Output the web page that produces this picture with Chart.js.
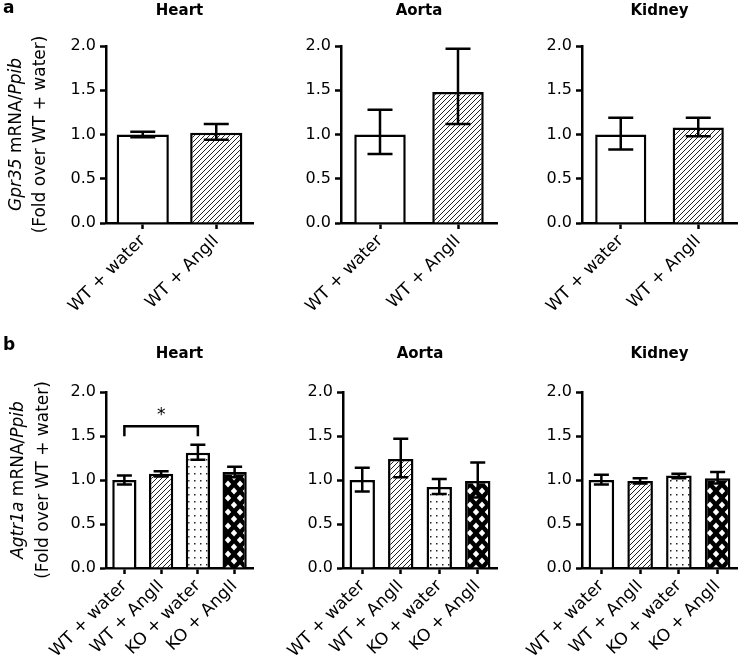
<!DOCTYPE html>
<html>
<head>
<meta charset="utf-8">
<script src="https://cdn.jsdelivr.net/npm/chart.js@4.4.0/dist/chart.umd.min.js"></script>
<style>
  body { margin: 0; background: #fff; width: 750px; height: 666px; position: relative; overflow: hidden; }
  canvas { position: absolute; }
</style>
</head>
<body>
<canvas id="aHeart" width="260" height="330" style="left:0;top:0"></canvas>
<canvas id="aAorta" width="240" height="330" style="left:260px;top:0"></canvas>
<canvas id="aKidney" width="250" height="330" style="left:500px;top:0"></canvas>
<canvas id="bHeart" width="260" height="336" style="left:0;top:330px"></canvas>
<canvas id="bAorta" width="240" height="336" style="left:260px;top:330px"></canvas>
<canvas id="bKidney" width="250" height="336" style="left:500px;top:330px"></canvas>
<script>
// ---- data ----
const tissueNames = ['Heart', 'Aorta', 'Kidney'];
const wtGroups = ['WT + water', 'WT + AngII'];
const allGroups = ['WT + water', 'WT + AngII', 'KO + water', 'KO + AngII'];
const yTickValues = [0, 0.5, 1.0, 1.5, 2.0];

// panel a : Gpr35 mRNA / Ppib (mean, lower and upper end of error bar)
const gpr35Heart = [1.00, 1.02];
const gpr35HeartLow = [0.97, 0.94];
const gpr35HeartHigh = [1.03, 1.12];
const gpr35Aorta = [1.00, 1.48];
const gpr35AortaLow = [0.78, 1.12];
const gpr35AortaHigh = [1.28, 1.97];
const gpr35Kidney = [1.00, 1.08];
const gpr35KidneyLow = [0.83, 0.98];
const gpr35KidneyHigh = [1.19, 1.19];

// panel b : Agtr1a mRNA / Ppib
const agtr1aHeart = [1.00, 1.07, 1.31, 1.09];
const agtr1aHeartLow = [0.95, 1.04, 1.23, 1.03];
const agtr1aHeartHigh = [1.05, 1.10, 1.40, 1.15];
const agtr1aAorta = [1.00, 1.24, 0.92, 0.99];
const agtr1aAortaLow = [0.87, 1.03, 0.84, 0.80];
const agtr1aAortaHigh = [1.14, 1.47, 1.01, 1.20];
const agtr1aKidney = [1.00, 0.99, 1.05, 1.02];
const agtr1aKidneyLow = [0.95, 0.96, 1.02, 0.96];
const agtr1aKidneyHigh = [1.06, 1.02, 1.07, 1.09];

// significance: WT + water vs KO + water in heart (from index, to index, height)
const heartSignificance = [0, 2, 1.61];

const FONT = 'DejaVu Sans';

// ---- fill patterns for the four groups ----
function tile(w, h, paint) {
  const c = document.createElement('canvas');
  c.width = w; c.height = h;
  const g = c.getContext('2d');
  paint(g, w, h);
  return c.getContext('2d').createPattern(c, 'repeat');
}
const hatchFill = tile(5, 5, (g, w, h) => {
  g.fillStyle = '#fff'; g.fillRect(0, 0, w, h);
  g.strokeStyle = '#222'; g.lineWidth = 1;
  g.beginPath();
  g.moveTo(-1, h + 1); g.lineTo(w + 1, -1);
  g.moveTo(-1, 1); g.lineTo(1, -1);
  g.moveTo(w - 1, h + 1); g.lineTo(w + 1, h - 1);
  g.stroke();
});
const dotFill = tile(6, 7, (g, w, h) => {
  g.fillStyle = '#fff'; g.fillRect(0, 0, w, h);
  g.fillStyle = '#222'; g.fillRect(2, 3, 1.5, 1.5);
});
const crossFill = tile(12, 14, (g, w, h) => {
  g.fillStyle = '#000'; g.fillRect(0, 0, w, h);
  g.fillStyle = '#fff';
  const diamond = (cx, cy) => {
    g.beginPath();
    g.moveTo(cx, cy - 3.4); g.lineTo(cx + 3.2, cy); g.lineTo(cx, cy + 3.4); g.lineTo(cx - 3.2, cy);
    g.closePath(); g.fill();
  };
  [[0, 0], [w, 0], [0, h], [w, h], [w / 2, h / 2]].forEach(p => diamond(p[0], p[1]));
});
const groupFills = ['#fff', hatchFill, dotFill, crossFill];

// ---- plugins: error bars, bracket, titles ----
const errorBars = {
  id: 'errorBars',
  afterDatasetsDraw(chart, args, opts) {
    const ctx = chart.ctx, y = chart.scales.y;
    const bars = chart.getDatasetMeta(0).data;
    ctx.save();
    ctx.strokeStyle = '#000';
    ctx.lineWidth = 2.5;
    bars.forEach((bar, i) => {
      const top = y.getPixelForValue(opts.high[i]);
      const bot = y.getPixelForValue(opts.low[i]);
      const half = opts.cap / 2;
      ctx.beginPath();
      ctx.moveTo(bar.x, top); ctx.lineTo(bar.x, bot);
      ctx.moveTo(bar.x - half, top); ctx.lineTo(bar.x + half, top);
      ctx.moveTo(bar.x - half, bot); ctx.lineTo(bar.x + half, bot);
      ctx.stroke();
    });
    ctx.restore();
  }
};

const bracket = {
  id: 'bracket',
  afterDatasetsDraw(chart, args, opts) {
    if (!opts.span) return;
    const ctx = chart.ctx, x = chart.scales.x, y = chart.scales.y;
    const x1 = x.getPixelForValue(opts.span[0]);
    const x2 = x.getPixelForValue(opts.span[1]);
    const yy = y.getPixelForValue(opts.span[2]);
    ctx.save();
    ctx.strokeStyle = '#000';
    ctx.lineWidth = 2.5;
    ctx.beginPath();
    ctx.moveTo(x1, yy + 10); ctx.lineTo(x1, yy); ctx.lineTo(x2, yy); ctx.lineTo(x2, yy + 10);
    ctx.stroke();
    ctx.fillStyle = '#000';
    ctx.font = '17px "' + FONT + '"';
    ctx.textAlign = 'center';
    ctx.textBaseline = 'middle';
    ctx.fillText('*', (x1 + x2) / 2, yy - 11);
    ctx.restore();
  }
};

const panelText = {
  id: 'panelText',
  afterDraw(chart, args, opts) {
    const ctx = chart.ctx, area = chart.chartArea;
    ctx.save();
    ctx.fillStyle = '#000';
    ctx.font = 'bold 15px "' + FONT + '"';
    ctx.textAlign = 'center';
    ctx.textBaseline = 'middle';
    ctx.fillText(opts.title, (area.left + area.right) / 2, opts.titleY);
    if (opts.letter) {
      ctx.font = 'bold 17px "' + FONT + '"';
      ctx.textAlign = 'left';
      ctx.textBaseline = 'alphabetic';
      ctx.fillText(opts.letter, 3, opts.letterY);
    }
    if (opts.gene) {
      const yc = (area.top + area.bottom) / 2;
      ctx.translate(0, yc);
      ctx.rotate(-Math.PI / 2);
      ctx.textBaseline = 'middle';
      const parts = [
        ['italic', opts.gene], ['normal', ' mRNA/'], ['italic', 'Ppib']
      ];
      let total = 0;
      parts.forEach(p => { ctx.font = p[0] + ' 17px "' + FONT + '"'; total += ctx.measureText(p[1]).width; });
      let x = -total / 2;
      ctx.textAlign = 'left';
      parts.forEach(p => {
        ctx.font = p[0] + ' 17px "' + FONT + '"';
        ctx.fillText(p[1], x, opts.labelX[0]);
        x += ctx.measureText(p[1]).width;
      });
      ctx.font = '17px "' + FONT + '"';
      ctx.textAlign = 'center';
      ctx.fillText('(Fold over WT + water)', 0, opts.labelX[1]);
    }
    ctx.restore();
  }
};

// ---- one chart per panel ----
function makePanel(id, cfg) {
  const canvas = document.getElementById(id);
  const W = canvas.width, H = canvas.height;
  const yW = 42, xH = 95;
  const a = cfg.area;
  const axisGrid = {
    drawOnChartArea: false, drawTicks: true, tickLength: 6,
    tickWidth: 2.5, tickColor: '#000', offset: false
  };
  const axisBorder = { display: true, color: '#000', width: 2.5 };
  return new Chart(canvas, {
    type: 'bar',
    data: {
      labels: cfg.labels,
      datasets: [{
        data: cfg.values,
        backgroundColor: groupFills.slice(0, cfg.values.length),
        borderColor: '#000',
        borderWidth: 2.5,
        borderSkipped: 'start',
        barPercentage: cfg.barPct,
        categoryPercentage: 1
      }]
    },
    options: {
      responsive: false,
      animation: false,
      layout: {
        autoPadding: false,
        padding: { left: a[0] - yW, top: a[1], right: W - a[2], bottom: H - a[3] - xH }
      },
      plugins: {
        legend: { display: false },
        tooltip: { enabled: false },
        errorBars: { low: cfg.low, high: cfg.high, cap: cfg.cap },
        bracket: { span: cfg.bracket },
        panelText: {
          title: cfg.title, titleY: cfg.titleY, letter: cfg.letter, letterY: cfg.letterY,
          gene: cfg.gene, labelX: cfg.labelX
        }
      },
      scales: {
        x: {
          offset: true,
          grid: axisGrid,
          border: axisBorder,
          ticks: {
            color: '#000', font: { family: FONT, size: 17 },
            minRotation: 45, maxRotation: 45, autoSkip: false, padding: 2
          },
          afterFit(s) { s.height = xH; s.paddingLeft = 0; s.paddingRight = 0; }
        },
        y: {
          min: 0, max: 2,
          grid: axisGrid,
          border: axisBorder,
          ticks: {
            color: '#000', font: { family: FONT, size: 16 }, padding: 4,
            callback: v => v.toFixed(1)
          },
          afterBuildTicks(s) { s.ticks = yTickValues.map(v => ({ value: v })); },
          afterFit(s) { s.width = yW; s.paddingTop = 0; s.paddingBottom = 0; }
        }
      }
    },
    plugins: [errorBars, bracket, panelText]
  });
}

makePanel('aHeart', {
  labels: wtGroups, values: gpr35Heart, low: gpr35HeartLow, high: gpr35HeartHigh,
  area: [106, 46, 253, 223], barPct: 0.71, cap: 25,
  title: tissueNames[0], titleY: 11, letter: 'a', letterY: 13,
  gene: 'Gpr35', labelX: [17, 41]
});
makePanel('aAorta', {
  labels: wtGroups, values: gpr35Aorta, low: gpr35AortaLow, high: gpr35AortaHigh,
  area: [81, 46, 237, 223], barPct: 0.66, cap: 25,
  title: tissueNames[1], titleY: 11
});
makePanel('aKidney', {
  labels: wtGroups, values: gpr35Kidney, low: gpr35KidneyLow, high: gpr35KidneyHigh,
  area: [82, 46, 237, 223], barPct: 0.66, cap: 25,
  title: tissueNames[2], titleY: 11
});
makePanel('bHeart', {
  labels: allGroups, values: agtr1aHeart, low: agtr1aHeartLow, high: agtr1aHeartHigh,
  area: [106, 62, 253, 238], barPct: 0.66, cap: 15, bracket: heartSignificance,
  title: tissueNames[0], titleY: 24, letter: 'b', letterY: 20,
  gene: 'Agtr1a', labelX: [19, 44]
});
makePanel('bAorta', {
  labels: allGroups, values: agtr1aAorta, low: agtr1aAortaLow, high: agtr1aAortaHigh,
  area: [83, 62, 237, 238], barPct: 0.66, cap: 15,
  title: tissueNames[1], titleY: 24
});
makePanel('bKidney', {
  labels: allGroups, values: agtr1aKidney, low: agtr1aKidneyLow, high: agtr1aKidneyHigh,
  area: [82, 62, 237, 238], barPct: 0.66, cap: 15,
  title: tissueNames[2], titleY: 24
});
</script>
</body>
</html>
